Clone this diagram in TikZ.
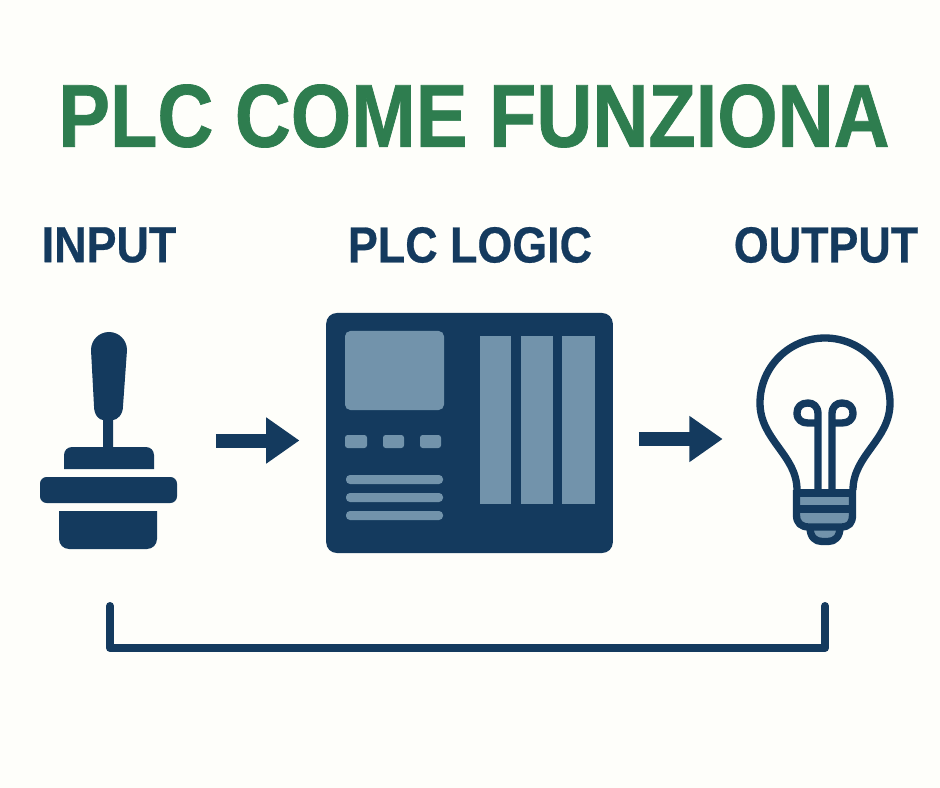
\documentclass[tikz,border=0pt]{standalone}
\usepackage{fontspec}
\newfontfamily\titlefont[FakeStretch=0.868,BoldFeatures={FakeBold=0.8}]{Liberation Sans}
\newfontfamily\headfont[FakeStretch=0.885,BoldFeatures={FakeBold=0.5}]{Liberation Sans}
\usepackage{tikz}
\usetikzlibrary{arrows.meta}
\definecolor{paper}{HTML}{FEFEFA}
\definecolor{navy}{HTML}{143A5E}
\definecolor{steel}{HTML}{7293AB}
\definecolor{leaf}{HTML}{2E7D4F}
\tikzset{
    title/.style={text=leaf, font=\titlefont\fontsize{67}{67}\selectfont\bfseries, inner sep=0},
    heading/.style={text=navy, font=\headfont\fontsize{38}{38}\selectfont\bfseries, inner sep=0},
    icon/.style={inner sep=0, outer sep=0},
    flow/.style={navy, line width=10.5pt, -{Triangle[length=25pt,width=33pt]}},
    outline/.style={navy, line width=5.5pt, line join=round}
}
\begin{document}
\begin{tikzpicture}[x=0.75pt, y=-0.75pt]
\useasboundingbox[fill=paper] (0,0) rectangle (940,788);
\node[title] (main) at (474,116) {PLC COME FUNZIONA};
\node[heading] (inlabel) at (109,245) {INPUT};
\node[heading] (logiclabel) at (470,245) {PLC LOGIC};
\node[heading] (outlabel) at (826,245) {OUTPUT};

\node[icon, minimum width=103pt, minimum height=163pt] (joy) at (108.5,440.5) {};
\node[icon, rounded corners=8pt, fill=navy, minimum width=215pt, minimum height=180pt] (plc) at (469.5,433) {};
\node[icon, minimum width=103.5pt, minimum height=159pt] (bulb) at (825,439) {};

% joystick
\fill[navy] (91,350) arc(180:360:18) -- (123,406) .. controls (123,415) and (117,420) .. (113,420) -- (113,447) -- (103,447) -- (103,420) .. controls (99,420) and (94,415) .. (94,406) -- cycle;
\fill[navy] (64,469) -- (64,455) arc(180:270:8) -- (146,447) arc(270:360:8) -- (154,469) -- cycle;
\fill[navy, rounded corners=5pt] (40,477) rectangle (177,503);
\fill[navy] (59,511) -- (59,539) arc(180:90:10) -- (147,549) arc(90:0:10) -- (157,511) -- cycle;

% plc panel
\fill[steel, rounded corners=4pt] (345,331) rectangle (444,410);
\foreach \xa/\xb in {345/367, 383/404, 420/441}
    \fill[steel, rounded corners=2pt] (\xa,435) rectangle (\xb,448);
\foreach \ya/\yb in {475/484, 493/502, 511/520}
    \fill[steel, rounded corners=3pt] (346,\ya) rectangle (443,\yb);
\foreach \xa/\xb in {480/511, 521/553, 562/595}
    \fill[steel] (\xa,336) rectangle (\xb,504);

% bulb
\fill[steel] (800,497) rectangle (849,505);
\fill[steel] (800,513) -- (849,513) -- (849,519) -- (843,525) -- (806,525) -- (800,519) -- cycle;
\fill[steel] (813,530) rectangle (837,538);
\draw[outline] (797,490) .. controls (797,455) and (760,440) .. (760,403) arc(180:360:65) .. controls (890,440) and (853,455) .. (853,490);
\draw[outline] (796.5,493) -- (852.5,493);
\draw[outline] (796.5,490) -- (796.5,515) .. controls (796.5,523) and (801,527) .. (809,527) -- (841,527) .. controls (849,527) and (852.5,523) .. (852.5,515) -- (852.5,490);
\draw[outline] (796.5,509) -- (852.5,509);
\draw[outline] (810,527) .. controls (810,537) and (815,541.5) .. (822,541.5) -- (828,541.5) .. controls (835,541.5) and (840,537) .. (840,527);
\draw[outline] (818,490) -- (818,414) .. controls (818,406) and (813,403) .. (808,403) .. controls (801,403) and (797,407) .. (797,413) .. controls (797,420) and (802,423) .. (808,423) -- (818,423);
\draw[outline] (832,490) -- (832,414) .. controls (832,406) and (837,403) .. (842,403) .. controls (849,403) and (853,407) .. (853,413) .. controls (853,420) and (848,423) .. (842,423) -- (832,423);

% arrows
\draw[flow, shorten <=29pt, shorten >=20pt] (joy.east) -- (joy.east -| plc.west);
\draw[flow, shorten <=19.5pt, shorten >=25pt] (bulb.west -| plc.east) -- (bulb.west);

% bracket
\coordinate (bracketL) at (110,606);
\coordinate (bracketR) at (825,606);
\draw[navy, line width=6pt, line cap=round, line join=round] (bracketL) -- ++(0,42) -| (bracketR);
\end{tikzpicture}
\end{document}
